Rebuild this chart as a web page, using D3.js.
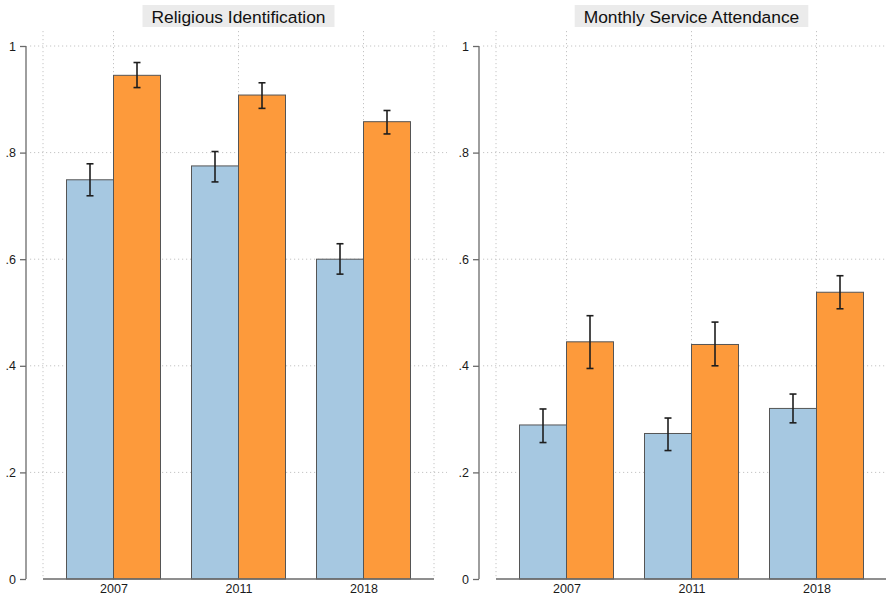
<!DOCTYPE html>
<html>
<head>
<meta charset="utf-8">
<script src="https://cdn.jsdelivr.net/npm/d3@7"></script>
<style>
  html, body { margin: 0; padding: 0; background: #fff; }
  svg { display: block; font-family: "Liberation Sans", Arial, Helvetica, sans-serif; }
</style>
</head>
<body>
<svg id="chart" width="886" height="597"></svg>
<script>
// ---- data ----
const categories = ["2007", "2011", "2018"];
const yTickValues = [0, 0.2, 0.4, 0.6, 0.8, 1];
const yTickLabels = ["0", ".2", ".4", ".6", ".8", "1"];
const panelTitles = ["Religious Identification", "Monthly Service Attendance"];

// Panel 1: Religious Identification
const identBlue    = [0.749, 0.775, 0.600];
const identBlueLo  = [0.719, 0.745, 0.572];
const identBlueHi  = [0.779, 0.802, 0.629];
const identOrange   = [0.945, 0.908, 0.858];
const identOrangeLo = [0.922, 0.883, 0.835];
const identOrangeHi = [0.969, 0.931, 0.879];

// Panel 2: Monthly Service Attendance
const attendBlue    = [0.289, 0.273, 0.320];
const attendBlueLo  = [0.256, 0.241, 0.293];
const attendBlueHi  = [0.319, 0.302, 0.347];
const attendOrange   = [0.445, 0.440, 0.538];
const attendOrangeLo = [0.395, 0.400, 0.507];
const attendOrangeHi = [0.494, 0.482, 0.569];

const seriesKeys = ["blue", "orange"];
const seriesColors = { blue: "#a6c8e1", orange: "#fd9a3b" };

// ---- build panel tables ----
function buildRows(b, bLo, bHi, o, oLo, oHi) {
  const rows = [];
  categories.forEach((c, i) => {
    rows.push({ cat: c, key: "blue", v: b[i], lo: bLo[i], hi: bHi[i] });
    rows.push({ cat: c, key: "orange", v: o[i], lo: oLo[i], hi: oHi[i] });
  });
  return rows;
}
const panels = [
  { title: panelTitles[0], rows: buildRows(identBlue, identBlueLo, identBlueHi, identOrange, identOrangeLo, identOrangeHi),
    axisX: 26, plotL: 43, plotR: 434, gridL: 30, gridR: 447 },
  { title: panelTitles[1], rows: buildRows(attendBlue, attendBlueLo, attendBlueHi, attendOrange, attendOrangeLo, attendOrangeHi),
    axisX: 479, plotL: 496, plotR: 887, gridL: 483, gridR: 900 }
];

const svg = d3.select("#chart");
const yTop = 46, yBot = 579, gridTop = 31;
const y = d3.scaleLinear().domain([0, 1]).range([yBot, yTop]);

panels.forEach(p => {
  const g = svg.append("g");
  const x = d3.scalePoint().domain(categories).range([p.plotL, p.plotR]).padding(0.564);
  const sub = d3.scaleBand().domain(seriesKeys).range([-47, 47]).paddingInner(0).paddingOuter(0);

  // horizontal dotted grid
  g.append("g").selectAll("line")
    .data(yTickValues.filter(v => v > 0))
    .join("line")
    .attr("x1", p.gridL).attr("x2", p.gridR)
    .attr("y1", d => y(d)).attr("y2", d => y(d))
    .attr("stroke", "#c4c4c4").attr("stroke-width", 1)
    .attr("stroke-dasharray", "1.2,2.8");

  // vertical dotted grid: plot edges + category centers
  const vgrid = [p.plotL, ...categories.map(c => x(c)), p.plotR];
  g.append("g").selectAll("line")
    .data(vgrid)
    .join("line")
    .attr("x1", d => d).attr("x2", d => d)
    .attr("y1", gridTop).attr("y2", yBot)
    .attr("stroke", "#c4c4c4").attr("stroke-width", 1)
    .attr("stroke-dasharray", "1.2,2.8");

  // bars
  g.append("g").selectAll("rect")
    .data(p.rows)
    .join("rect")
    .attr("x", d => x(d.cat) + sub(d.key))
    .attr("width", sub.bandwidth())
    .attr("y", d => y(d.v))
    .attr("height", d => y(0) - y(d.v))
    .attr("fill", d => seriesColors[d.key])
    .attr("stroke", "#555")
    .attr("stroke-width", 1);

  // error bars
  const eb = g.append("g").attr("stroke", "#1e1e1e").attr("stroke-width", 1.6);
  const cx = d => x(d.cat) + sub(d.key) + sub.bandwidth() / 2;
  eb.selectAll("line.v").data(p.rows).join("line").attr("class", "v")
    .attr("x1", cx).attr("x2", cx)
    .attr("y1", d => y(d.lo)).attr("y2", d => y(d.hi));
  eb.selectAll("line.t").data(p.rows).join("line").attr("class", "t")
    .attr("x1", d => cx(d) - 3.5).attr("x2", d => cx(d) + 3.5)
    .attr("y1", d => y(d.hi)).attr("y2", d => y(d.hi));
  eb.selectAll("line.b").data(p.rows).join("line").attr("class", "b")
    .attr("x1", d => cx(d) - 3.5).attr("x2", d => cx(d) + 3.5)
    .attr("y1", d => y(d.lo)).attr("y2", d => y(d.lo));

  // y axis
  const yAxis = d3.axisLeft(y)
    .tickValues(yTickValues)
    .tickFormat((d, i) => yTickLabels[i])
    .tickSize(6).tickPadding(4);
  const ya = g.append("g").attr("transform", `translate(${p.axisX},0)`).call(yAxis);
  ya.select(".domain").attr("stroke", "#6a6a6a").attr("stroke-width", 1.3)
    .attr("d", `M0,${yTop}V${yBot}`);
  ya.selectAll(".tick line").attr("stroke", "#6a6a6a").attr("stroke-width", 1.3);
  ya.selectAll(".tick text").attr("font-size", 12.5).attr("fill", "#1a1a1a")
    .attr("font-family", "'Liberation Sans', Arial, sans-serif");

  // x axis
  const xAxis = d3.axisBottom(x).tickSize(0).tickPadding(5);
  const xa = g.append("g").attr("transform", `translate(0,${yBot})`).call(xAxis);
  xa.select(".domain").attr("stroke", "#6a6a6a").attr("stroke-width", 1.3)
    .attr("d", `M${p.plotL},0H${p.plotR}`);
  xa.selectAll(".tick text").attr("font-size", 12.5).attr("fill", "#1a1a1a")
    .attr("font-family", "'Liberation Sans', Arial, sans-serif");

  // title with grey box
  const tcx = (p.plotL + p.plotR) / 2;
  const tg = g.append("g");
  const box = tg.append("rect").attr("fill", "#ebebeb");
  const txt = tg.append("text")
    .attr("x", tcx).attr("y", 22.5)
    .attr("text-anchor", "middle")
    .attr("font-size", 17.4)
    .attr("fill", "#111")
    .text(p.title);
  const bb = txt.node().getBBox();
  box.attr("x", bb.x - 9).attr("width", bb.width + 18)
     .attr("y", 5).attr("height", 22);
});
</script>
</body>
</html>
